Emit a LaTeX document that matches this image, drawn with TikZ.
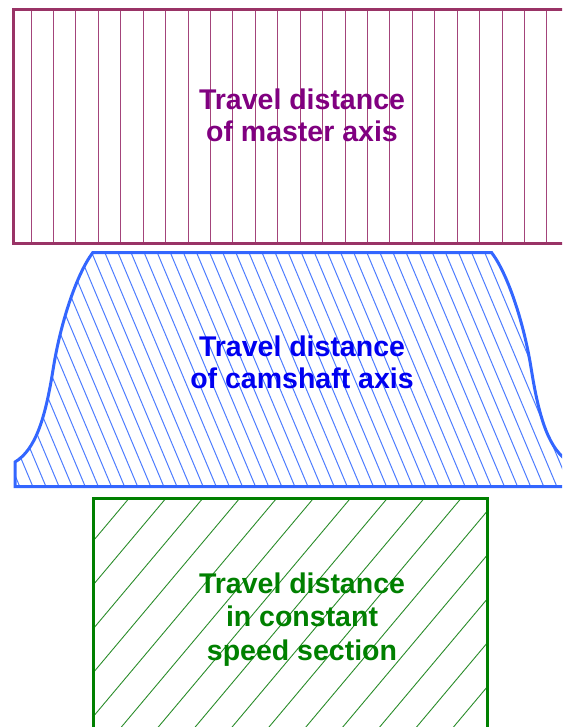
\documentclass[tikz,border=0pt]{standalone}
\usepackage{fontspec}
\setmainfont{Liberation Sans}
\definecolor{mborder}{HTML}{993366}
\definecolor{mhatch}{HTML}{A3447A}
\definecolor{mtext}{HTML}{800080}
\definecolor{cborder}{HTML}{3366FF}
\definecolor{chatch}{HTML}{4D7CFF}
\definecolor{ctext}{HTML}{0000F0}
\definecolor{gborder}{HTML}{008000}
\definecolor{ghatch}{HTML}{2A8C2A}
\definecolor{gtext}{HTML}{008000}
\tikzset{
  lbl/.style={anchor=base, inner sep=0pt, font=\fontsize{28.5}{33}\selectfont\bfseries},
  hatchline/.style={line width=1pt},
  frame/.style={line width=3pt, line join=miter}
}
\def\campath{(15,486.7) -- (15,462) .. controls (35,450) and (45,420) .. (53,370) .. controls (60,325) and (76,275) .. (92.7,252.7) -- (491.7,252.7) .. controls (508.4,275) and (524.4,325) .. (531.4,370) .. controls (539.4,420) and (549.4,450) .. (569.4,462) -- (569.4,486.7) -- cycle}
\begin{document}
\begin{tikzpicture}[x=1pt,y=-1pt]
\useasboundingbox (0,0) rectangle (562,727);
\begin{scope}
\clip (0,0) rectangle (562,727);
% ---- master axis
\foreach \k in {0,...,23}
  \draw[mhatch, hatchline] ({31+22.43*\k},10) -- ({31+22.43*\k},243.3);
\draw[mborder, frame] (585,10) -- (13,10) -- (13,243.3) -- (585,243.3);
% ---- camshaft axis
\begin{scope}
\clip \campath;
\foreach \k in {-37,...,16}
  \draw[chatch, hatchline] ({478.3+13.1*\k},486.7) -- ({478.3+13.1*\k-98.3},252.7);
\end{scope}
\draw[cborder, frame] \campath;
% ---- constant speed section
\begin{scope}
\clip (93.3,498.3) rectangle (487.3,740);
\foreach \k in {-1,...,18}
  \draw[ghatch, line width=0.9pt] ({129+36.9*\k},498.3) -- ({129+36.9*\k-210},748.3);
\end{scope}
\draw[gborder, frame] (93.3,740) -- (93.3,498.3) -- (487.3,498.3) -- (487.3,740);
\end{scope}
% ---- labels
\node[lbl, text=mtext] (m1) at (302,109.3) {Travel distance};
\node[lbl, text=mtext] (m2) at (302,141.7) {of master axis};
\node[lbl, text=ctext] (c1) at (302,356) {Travel distance};
\node[lbl, text=ctext] (c2) at (302,388.3) {of camshaft axis};
\node[lbl, text=gtext] (g1) at (302,593.3) {Travel distance};
\node[lbl, text=gtext] (g2) at (302,626.7) {in constant};
\node[lbl, text=gtext] (g3) at (302,660) {speed section};
\end{tikzpicture}
\end{document}
